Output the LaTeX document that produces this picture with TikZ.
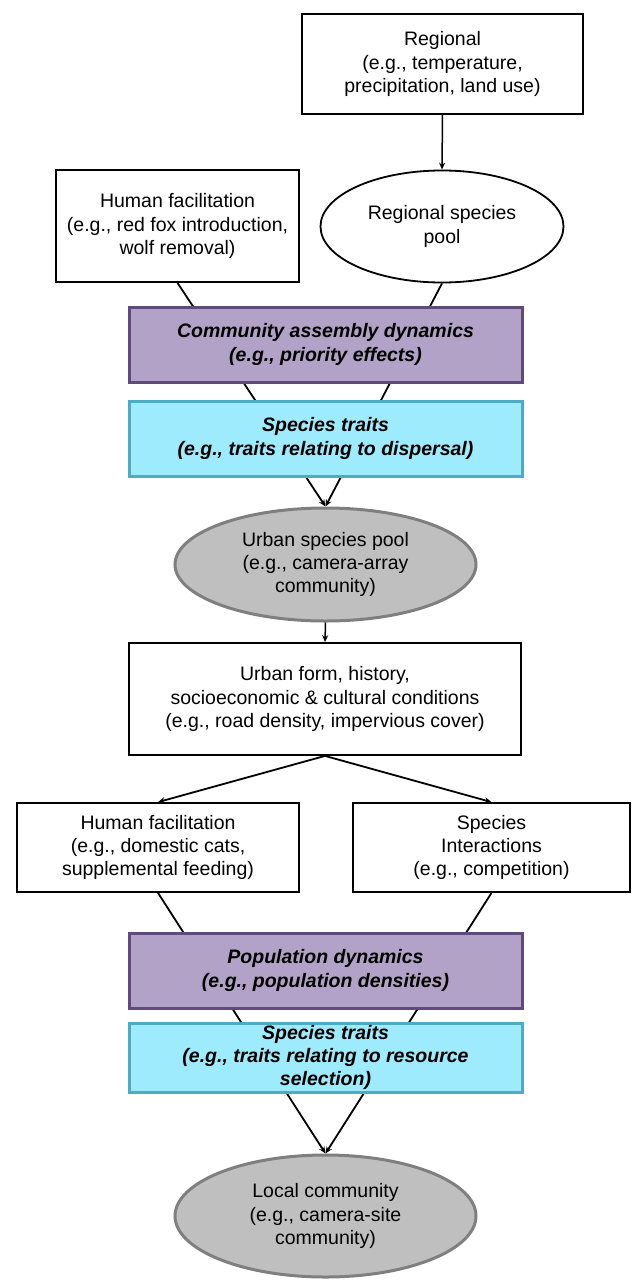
\documentclass[tikz,border=0pt]{standalone}
\usepackage{fontspec}
\setmainfont{Liberation Sans}
\usetikzlibrary{shapes.geometric,arrows.meta,backgrounds,shadows}
\definecolor{purfill}{HTML}{B3A2C7}
\definecolor{purline}{HTML}{604A7B}
\definecolor{cyfill}{HTML}{9EEBFD}
\definecolor{cyline}{HTML}{4BACC6}
\definecolor{grfill}{HTML}{BFBFBF}
\definecolor{grline}{HTML}{7F7F7F}
\begin{document}
\begin{tikzpicture}[x=1pt,y=-1pt,
  every node/.style={font=\fontsize{19.5}{23.4}\selectfont, align=center, inner sep=0pt},
  plainbox/.style={draw=black, line width=1.8pt, fill=white, rectangle},
  softshadow/.style={drop shadow={opacity=0.25, shadow xshift=1pt, shadow yshift=-1.5pt}},
  purbox/.style={draw=purline, line width=3pt, fill=purfill, rectangle, softshadow,
     font=\fontsize{19.5}{23.4}\selectfont\bfseries\itshape},
  cybox/.style={draw=cyline, line width=3pt, fill=cyfill, rectangle, softshadow,
     font=\fontsize{19.5}{23.4}\selectfont\bfseries\itshape},
  whiteell/.style={draw=black, line width=1.8pt, fill=white, ellipse},
  greyell/.style={draw=grline, line width=3pt, fill=grfill, ellipse},
  conn/.style={line width=1.8pt, -{Stealth[length=7pt,width=6pt]}},
  thinarr/.style={line width=1.5pt, -{Stealth[length=7pt,width=6pt]}}
]
\useasboundingbox (0,0) rectangle (632,1280);

\node[plainbox, minimum width=281, minimum height=100] (reg) at (442.5,64)
  {Regional\\(e.g., temperature,\\precipitation, land use)};
\node[plainbox, minimum width=243, minimum height=112] (hf1) at (177.5,226)
  {Human facilitation\\(e.g., red fox introduction,\\wolf removal)};
\node[whiteell, minimum width=243, minimum height=112] (rpool) at (442,226.5)
  {Regional species\\pool};
\node[purbox, minimum width=393, minimum height=75] (cad) at (325.5,344.5)
  {Community assembly dynamics\\(e.g., priority effects)};
\node[cybox, minimum width=393, minimum height=75] (st1) at (325.5,438.5)
  {Species traits\\(e.g., traits relating to dispersal)};
\node[greyell, minimum width=301, minimum height=113] (upool) at (325.5,564.5)
  {Urban species pool\\(e.g., camera-array\\community)};
\node[plainbox, minimum width=392, minimum height=112] (uform) at (325,699)
  {Urban form, history,\\socioeconomic \& cultural conditions\\(e.g., road density, impervious cover)};
\node[plainbox, minimum width=282, minimum height=89] (hf2) at (158,847.5)
  {Human facilitation\\(e.g., domestic cats,\\supplemental feeding)};
\node[plainbox, minimum width=277, minimum height=89] (si) at (491.5,847.5)
  {Species\\Interactions\\(e.g., competition)};
\node[purbox, minimum width=393, minimum height=75] (pd) at (325.5,970.5)
  {Population dynamics\\(e.g., population densities)};
\node[cybox, minimum width=393, minimum height=69] (st2) at (325.5,1057.5)
  {Species traits\\(e.g., traits relating to resource\\selection)};
\node[greyell, minimum width=301, minimum height=122] (local) at (325.5,1216)
  {Local community\\(e.g., camera-site\\community)};

\draw[thinarr] (reg.south) -- (rpool.north);
\draw[thinarr] (upool.south) -- (uform.north);
\draw[conn] (uform.south) -- (hf2.north);
\draw[conn] (uform.south) -- (si.north);

\begin{pgfonlayer}{background}
\draw[conn] (hf1.south) -- (upool.north);
\draw[conn] (rpool.south) -- (upool.north);
\draw[conn] (hf2.south) -- (local.north);
\draw[conn] (si.south) -- (local.north);
\end{pgfonlayer}
\end{tikzpicture}
\end{document}
